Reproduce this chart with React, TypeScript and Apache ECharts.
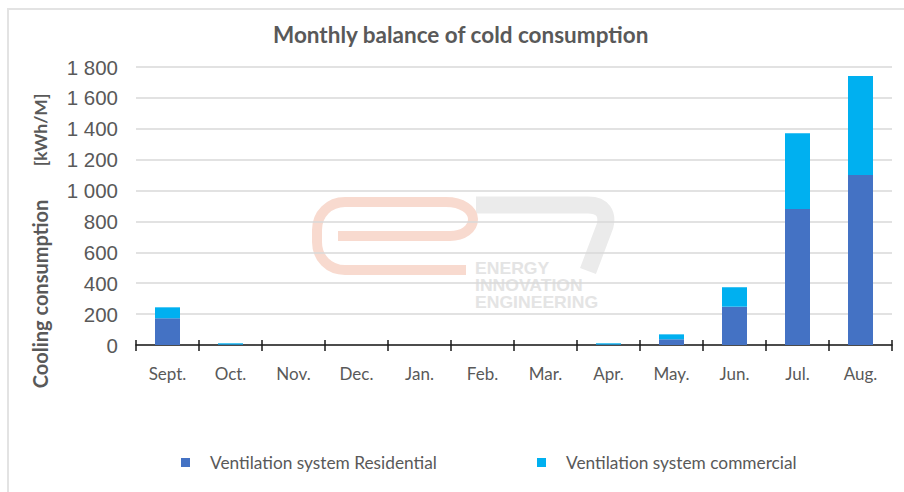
import React, { useEffect, useRef } from "react";
import * as echarts from "echarts";

const categories = ["Sept.", "Oct.", "Nov.", "Dec.", "Jan.", "Feb.", "Mar.", "Apr.", "May.", "Jun.", "Jul.", "Aug."];
const residential = [173, 3, 0, 0, 0, 0, 0, 3, 37, 248, 881, 1101];
const commercial = [71, 8, 0, 0, 0, 0, 0, 8, 32, 126, 490, 641];
const yMin = 0;
const yMax = 1800;
const yStep = 200;
const watermarkLines = ["ENERGY", "INNOVATION", "ENGINEERING"];

const E_PATH =
  "M 466 270 L 345 270 C 329 270 317 258 317 242 L 317 230 C 317 214 329 202 345 202 L 446 202 C 462 202 473 210 473 219 C 473 229 463 236 450 236 L 338 236";
const SEVEN_PATH = "M 476 205 L 588 205 C 603 205 608 214 605 226 L 588 271";

let registered = false;
function registerShapes() {
  if (registered) return;
  echarts.graphic.registerShape("e7e", echarts.graphic.extendPath(E_PATH, {}) as any);
  echarts.graphic.registerShape("e7seven", echarts.graphic.extendPath(SEVEN_PATH, {}) as any);
  registered = true;
}

const fmt = (v: number) => {
  const s = String(v);
  return s.length > 3 ? s.slice(0, s.length - 3) + " " + s.slice(s.length - 3) : s;
};

export default function App() {
  const ref = useRef<HTMLDivElement>(null);
  useEffect(() => {
    document.body.style.margin = "0";
    registerShapes();
    const chart = echarts.init(ref.current!, undefined, { renderer: "svg" });
    const grey = "#595959";
    chart.setOption({
      animation: false,
      backgroundColor: "#ffffff",
      title: {
        text: "Monthly balance of cold consumption",
        left: 273,
        top: 23,
        padding: 0,
        textStyle: { fontFamily: "Lato", fontWeight: "bold", fontSize: 22.5, color: grey },
      },
      legend: [
        {
          data: ["Ventilation system Residential"],
          left: 181,
          top: 454,
          padding: 0,
          icon: "rect",
          itemWidth: 9,
          itemHeight: 9,
          textStyle: { fontFamily: "Lato", fontSize: 17.3, color: grey, padding: [0, 0, 0, 15] },
        },
        {
          data: ["Ventilation system commercial"],
          left: 537,
          top: 454,
          padding: 0,
          icon: "rect",
          itemWidth: 9,
          itemHeight: 9,
          textStyle: { fontFamily: "Lato", fontSize: 17.3, color: grey, padding: [0, 0, 0, 15] },
        },
      ],
      grid: { left: 136, right: 12, top: 67, bottom: 147, containLabel: false },
      xAxis: [
        {
          type: "category",
          data: categories,
          boundaryGap: true,
          axisLine: { show: true, lineStyle: { color: "#1a1a1a", width: 1.5 } },
          axisTick: { show: true, length: 6, lineStyle: { color: "#1a1a1a", width: 1.5 } },
          axisLabel: { margin: 20, fontFamily: "Lato", fontSize: 17, color: grey },
        },
        {
          type: "category",
          data: categories,
          position: "bottom",
          boundaryGap: true,
          axisLine: { show: false },
          axisTick: { show: true, inside: true, length: 5, lineStyle: { color: "#1a1a1a", width: 1.5 } },
          axisLabel: { show: false },
        },
      ],
      yAxis: {
        type: "value",
        min: yMin,
        max: yMax,
        interval: yStep,
        axisLine: { show: false },
        axisTick: { show: false },
        splitLine: { lineStyle: { color: "#d9d9d9", width: 1.5 } },
        axisLabel: {
          margin: 18,
          formatter: (v: number) => fmt(v),
          fontFamily: "Liberation Sans",
          fontSize: 20.5,
          color: grey,
        },
      },
      graphic: [
        { type: "line", shape: { x1: 7, y1: 9, x2: 904, y2: 9 }, style: { stroke: "#e3e3e3", lineWidth: 2 }, silent: true },
        { type: "line", shape: { x1: 8, y1: 9, x2: 8, y2: 492 }, style: { stroke: "#e3e3e3", lineWidth: 2 }, silent: true },
        {
          type: "e7seven",
          x: 0,
          y: 0,
          z: -20,
          silent: true,
          style: { fill: "none", stroke: "#ebebeb", lineWidth: 17, lineCap: "butt" },
        },
        {
          type: "e7e",
          x: 0,
          y: 0,
          z: -20,
          silent: true,
          style: { fill: "none", stroke: "#f8dacf", lineWidth: 10, lineCap: "butt" },
        },
        ...watermarkLines.map((t, i) => ({
          type: "text",
          x: 475,
          y: 269 + i * 17,
          z: -20,
          silent: true,
          style: {
            text: t,
            fill: "#e4e4e4",
            font: "bold 16px 'Liberation Sans'",
            verticalAlign: "middle",
          },
          scaleX: 1.1,
        })),
        {
          type: "text",
          x: 40,
          y: 294,
          rotation: Math.PI / 2,
          silent: true,
          style: {
            text: "Cooling consumption",
            fill: grey,
            font: "bold 20px Lato",
            align: "center",
            verticalAlign: "middle",
          },
        },
        {
          type: "text",
          x: 40,
          y: 130,
          rotation: Math.PI / 2,
          silent: true,
          style: {
            text: "[kWh/M]",
            fill: grey,
            font: "bold 17.5px Lato",
            align: "center",
            verticalAlign: "middle",
          },
        },
      ],
      series: [
        {
          name: "Ventilation system Residential",
          type: "bar",
          stack: "total",
          barWidth: 25,
          data: residential,
          itemStyle: { color: "#4472C4" },
        },
        {
          name: "Ventilation system commercial",
          type: "bar",
          stack: "total",
          barWidth: 25,
          data: commercial,
          itemStyle: { color: "#00B0F0" },
        },
      ],
    });
    return () => chart.dispose();
  }, []);
  return <div ref={ref} style={{ width: 904, height: 492 }} />;
}
